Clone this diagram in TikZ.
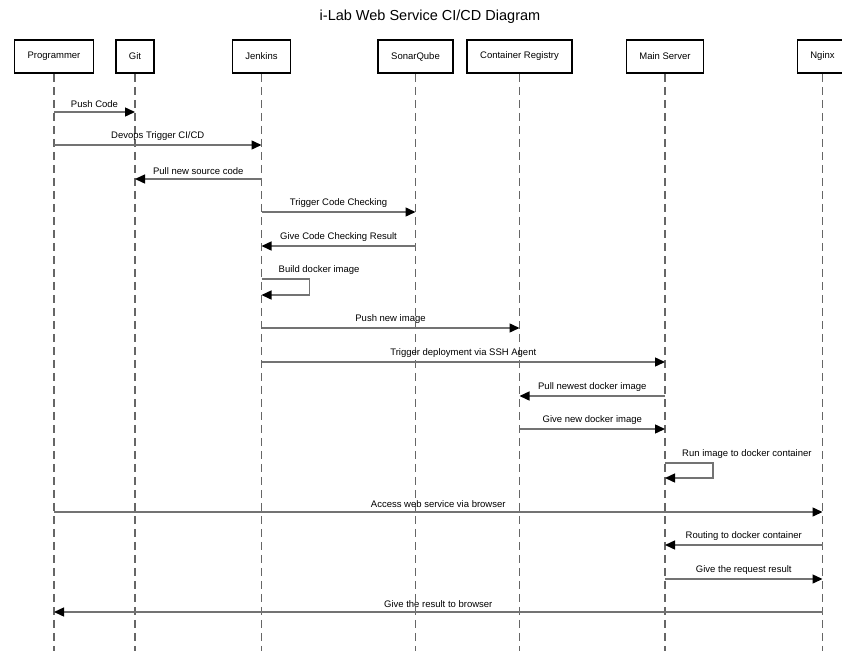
\documentclass[tikz,border=0pt]{standalone}
\usepackage{fontspec}
\setmainfont{Liberation Sans}
\usetikzlibrary{arrows.meta, positioning}
\tikzstyle{actor} = [rectangle, draw=black, line width=1.7pt, minimum height=33pt, inner xsep=13pt,
                     font=\fontsize{9.5}{11}\selectfont, fill=white]
\tikzstyle{life} = [draw=black!60, line width=1.2pt, dash pattern=on 8pt off 5pt]
\tikzstyle{msg} = [draw=black!55, line width=1.4pt, -{Triangle[length=10pt, width=9pt, black]}]
\tikzstyle{lbl} = [above=2.5pt, font=\fontsize{9.5}{11}\selectfont, inner sep=1pt]
\tikzstyle{selflbl} = [anchor=south west, font=\fontsize{9.5}{11}\selectfont, inner sep=1pt]

\begin{document}
\begin{tikzpicture}[x=1pt, y=-1pt]
    \useasboundingbox (0,0) rectangle (842,650);
    % Title
    \node[font=\fontsize{14.5}{16}\selectfont] (title) at (430,17) {i-Lab Web Service CI/CD Diagram};

    % Participants
    \node[actor] (prog) at (54,56.5) {Programmer};
    \node[actor] (git) at (135,56.5) {Git};
    \node[actor] (jen) at (261.5,56.5) {Jenkins};
    \node[actor] (sonar) at (415.5,56.5) {SonarQube};
    \node[actor] (reg) at (519.5,56.5) {Container Registry};
    \node[actor] (main) at (665,56.5) {Main Server};
    \node[actor] (ngx) at (822.5,56.5) {Nginx};

    % Lifelines
    \foreach \p in {prog, git, jen, sonar, reg, main, ngx} {
        \coordinate (\p-end) at (\p |- 0,652);
        \draw[life] (\p.south) -- (\p-end);
    }

    % Messages
    \draw[msg] (prog |- 0,112) -- node[lbl] {Push Code} (git |- 0,112);
    \draw[msg] (prog |- 0,145) -- node[lbl] {Devops Trigger CI/CD} (jen |- 0,145);
    \draw[msg] (jen |- 0,179) -- node[lbl] {Pull new source code} (git |- 0,179);
    \draw[msg] (jen |- 0,212) -- node[lbl] {Trigger Code Checking} (sonar |- 0,212);
    \draw[msg] (sonar |- 0,246) -- node[lbl] {Give Code Checking Result} (jen |- 0,246);
    \draw[msg] (jen |- 0,279) -- ++(48,0) |- (jen |- 0,295);
    \node[selflbl] (buildlbl) at ([xshift=16pt]jen |- 0,276) {Build docker image};
    \draw[msg] (jen |- 0,328) -- node[lbl] {Push new image} (reg |- 0,328);
    \draw[msg] (jen |- 0,362) -- node[lbl] {Trigger deployment via SSH Agent} (main |- 0,362);
    \draw[msg] (main |- 0,396) -- node[lbl] {Pull newest docker image} (reg |- 0,396);
    \draw[msg] (reg |- 0,429) -- node[lbl] {Give new docker image} (main |- 0,429);
    \draw[msg] (main |- 0,463) -- ++(48,0) |- (main |- 0,478);
    \node[selflbl] (runlbl) at ([xshift=16pt]main |- 0,460) {Run image to docker container};
    \draw[msg] (prog |- 0,512) -- node[lbl] {Access web service via browser} (ngx |- 0,512);
    \draw[msg] (ngx |- 0,545) -- node[lbl] {Routing to docker container} (main |- 0,545);
    \draw[msg] (main |- 0,579) -- node[lbl] {Give the request result} (ngx |- 0,579);
    \draw[msg] (ngx |- 0,612) -- node[lbl] {Give the result to browser} (prog |- 0,612);
\end{tikzpicture}
\end{document}
